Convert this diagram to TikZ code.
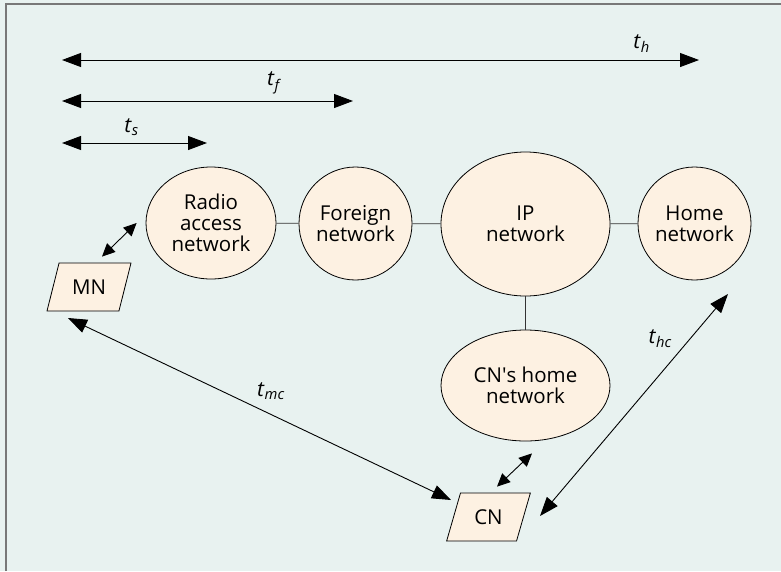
\documentclass[tikz,border=0pt]{standalone}
\usepackage{fontspec}
\setmainfont{Open Sans}
\usetikzlibrary{arrows.meta,shapes.geometric}

\definecolor{panelbg}{RGB}{232,242,240}
\definecolor{netfill}{RGB}{253,241,226}
\definecolor{framegray}{RGB}{120,120,120}
\newcommand{\tlab}[1]{\textit{t}\textsubscript{\textit{#1}}}

\tikzset{
  net/.style={ellipse,draw,fill=netfill,line width=0.8pt,inner sep=0pt,align=center,
    font=\fontsize{20.5}{21}\selectfont},
  host/.style={trapezium,trapezium left angle=65,trapezium right angle=115,
    trapezium stretches=true,minimum width=84pt,minimum height=48pt,inner sep=0pt,
    draw,fill=netfill,line width=0.8pt,font=\fontsize{20.5}{21}\selectfont},
  link/.style={line width=0.8pt,draw=black!80},
  delay/.style={line width=0.9pt,{Triangle[length=19pt,width=14pt]}-{Triangle[length=19pt,width=14pt]}},
  hop/.style={line width=0.9pt,{Triangle[length=13pt,width=12pt]}-{Triangle[length=13pt,width=12pt]}},
  tlabel/.style={inner sep=0pt,font=\fontsize{21}{22}\selectfont}
}

\begin{document}
\begin{tikzpicture}[x=1pt,y=-1pt]
\useasboundingbox (0,0) rectangle (781,571);
\fill[panelbg] (0,0) rectangle (781,571);
\draw[framegray,line width=2pt] (6,571) -- (6,4) -- (781,4);

% networks
\node[net,minimum width=130pt,minimum height=112pt] (ran) at (211,223) {Radio\\access\\network};
\node[net,minimum width=113pt,minimum height=113pt] (foreign) at (355.5,223.5) {Foreign\\network};
\node[net,minimum width=169pt,minimum height=144pt] (ip) at (525.5,224) {IP\\network};
\node[net,minimum width=113pt,minimum height=113pt] (home) at (694.5,223.5) {Home\\network};
\node[net,minimum width=169pt,minimum height=111pt] (cnhome) at (525.5,385.5) {CN\textquotesingle s home\\network};

% hosts
\node[host] (mn) at (89,287) {MN};
\node[host] (cn) at (488.5,517) {CN};

\draw[link] (ran) -- (foreign);
\draw[link] (foreign) -- (ip);
\draw[link] (ip) -- (home);
\draw[link] (ip) -- (cnhome);

% delay spans
\coordinate (hL) at (62,60);  \coordinate (hR) at (699,60);
\coordinate (fL) at (62,101); \coordinate (fR) at (353,101);
\coordinate (sL) at (62,143); \coordinate (sR) at (207,143);
\draw[delay] (hL) -- node[tlabel,pos=.91,above=7pt] {\tlab{h}} (hR);
\draw[delay] (fL) -- node[tlabel,pos=.73,above=7pt] {\tlab{f}} (fR);
\draw[delay] (sL) -- node[tlabel,pos=.48,above=7pt] {\tlab{s}} (sR);

\draw[hop] ([xshift=13pt,yshift=6pt]mn.north) -- ([xshift=-9pt]ran.west);
\draw[hop] ([xshift=8.5pt,yshift=6pt]cn.north) -- ([xshift=6.5pt,yshift=-12pt]cnhome.south);

\draw[delay] ([xshift=-21pt,yshift=-31pt]mn.center) -- node[tlabel,pos=.53,above=14pt] {\tlab{mc}} ([xshift=-37.5pt,yshift=17pt]cn.center);
\draw[delay] ([xshift=51.5pt,yshift=1pt]cn.center) -- node[tlabel,pos=.8,left=18pt] {\tlab{hc}} ([xshift=33.5pt,yshift=-70.5pt]home.center);
\end{tikzpicture}
\end{document}
